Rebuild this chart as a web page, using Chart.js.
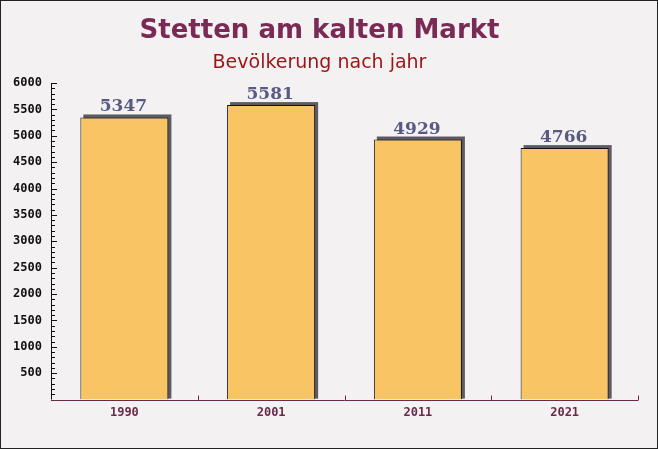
<!DOCTYPE html>
<html><head><meta charset="utf-8">
<script src="https://cdn.jsdelivr.net/npm/chart.js@4/dist/chart.umd.min.js"></script>
<style>
html,body{margin:0;padding:0;background:#f3f1f1;}
#wrap{position:relative;width:656px;height:447px;border:1px solid #222;background:#f3f1f1;}
canvas{display:block;}
</style></head>
<body><div id="wrap"><canvas id="c" width="656" height="447"></canvas></div>
<script>
const titleText = "Stetten am kalten Markt";
const subtitleText = "Bevölkerung nach jahr";
const years = ["1990", "2001", "2011", "2021"];
const population = [5347, 5581, 4929, 4766];
const yMin = 0, yMax = 6000, yStep = 500, yMinorStep = 100;

const shadowPlugin = {
  id: 'shadow',
  beforeDatasetsDraw(chart) {
    const ctx = chart.ctx;
    const meta = chart.getDatasetMeta(0);
    ctx.save();
    ctx.fillStyle = '#5c5a62';
    meta.data.forEach(b => {
      const l = b.x - b.width / 2, r = b.x + b.width / 2;
      ctx.fillRect(l + 3, b.y - 3, r - l, b.base - b.y + 2);
    });
    ctx.restore();
  },
  afterDatasetsDraw(chart) {
    const ctx = chart.ctx;
    const meta = chart.getDatasetMeta(0);
    ctx.save();
    ctx.font = 'bold 17px "DejaVu Serif"';
    ctx.fillStyle = '#585a82';
    ctx.textAlign = 'center';
    ctx.textBaseline = 'alphabetic';
    meta.data.forEach((b, i) => {
      ctx.fillText(String(population[i]), b.x - 1, b.y - 6);
    });
    ctx.restore();
  },
  afterDraw(chart) {
    const ctx = chart.ctx;
    const y = chart.scales.y, x = chart.scales.x;
    const ca = chart.chartArea;
    ctx.save();
    ctx.strokeStyle = '#111';
    ctx.lineWidth = 1;
    ctx.beginPath();
    ctx.moveTo(ca.left + 0.5, ca.top);
    ctx.lineTo(ca.left + 0.5, ca.bottom);
    for (let v = yMin; v <= yMax; v += yMinorStep) {
      const py = Math.round(y.getPixelForValue(v)) + 0.5;
      const len = (v % yStep === 0) ? 6 : 4;
      ctx.moveTo(ca.left, py);
      ctx.lineTo(ca.left + len, py);
    }
    ctx.stroke();
    ctx.strokeStyle = '#6b2a4a';
    ctx.beginPath();
    const by = Math.round(ca.bottom) + 0.5;
    ctx.moveTo(ca.left, by);
    ctx.lineTo(ca.right, by);
    for (let i = 1; i <= years.length; i++) {
      const px = Math.round(x.getPixelForValue(i - 0.5)) + 0.5;
      ctx.moveTo(px, by);
      ctx.lineTo(px, by - 5);
    }
    ctx.stroke();
    ctx.restore();
  }
};

new Chart(document.getElementById('c'), {
  type: 'bar',
  data: {
    labels: years,
    datasets: [{
      data: population,
      backgroundColor: '#f9c464',
      borderColor: '#111',
      borderWidth: {left: 1, top: 1, right: 1, bottom: 0},
      borderSkipped: 'bottom',
      categoryPercentage: 0.6,
      barPercentage: 1.0
    }]
  },
  options: {
    responsive: false,
    animation: false,
    layout: {padding: {left: 0, right: 19, top: 0, bottom: 22}},
    plugins: {
      legend: {display: false},
      tooltip: {enabled: false},
      title: {
        display: true, text: titleText, color: '#7a2a55',
        font: {family: '"DejaVu Sans"', size: 26, weight: 'bold'},
        padding: {top: 15, bottom: 4}
      },
      subtitle: {
        display: true, text: subtitleText, color: '#9c1515',
        font: {family: '"DejaVu Sans"', size: 19},
        padding: {top: 0, bottom: 9}
      }
    },
    scales: {
      y: {
        min: yMin, max: yMax,
        ticks: {
          stepSize: yStep, color: '#111',
          font: {family: '"DejaVu Sans Mono"', size: 12, weight: 'bold'},
          padding: 9,
          callback: v => v === 0 ? '' : String(v)
        },
        grid: {display: false, drawTicks: false},
        border: {display: false},
        afterFit: s => { s.width = 50; }
      },
      x: {
        ticks: {
          color: '#6b2a4a',
          font: {family: '"DejaVu Sans Mono"', size: 12, weight: 'bold'},
          padding: 6
        },
        grid: {display: false, drawTicks: false},
        border: {display: false}
      }
    }
  },
  plugins: [shadowPlugin]
});
</script>
</body></html>
